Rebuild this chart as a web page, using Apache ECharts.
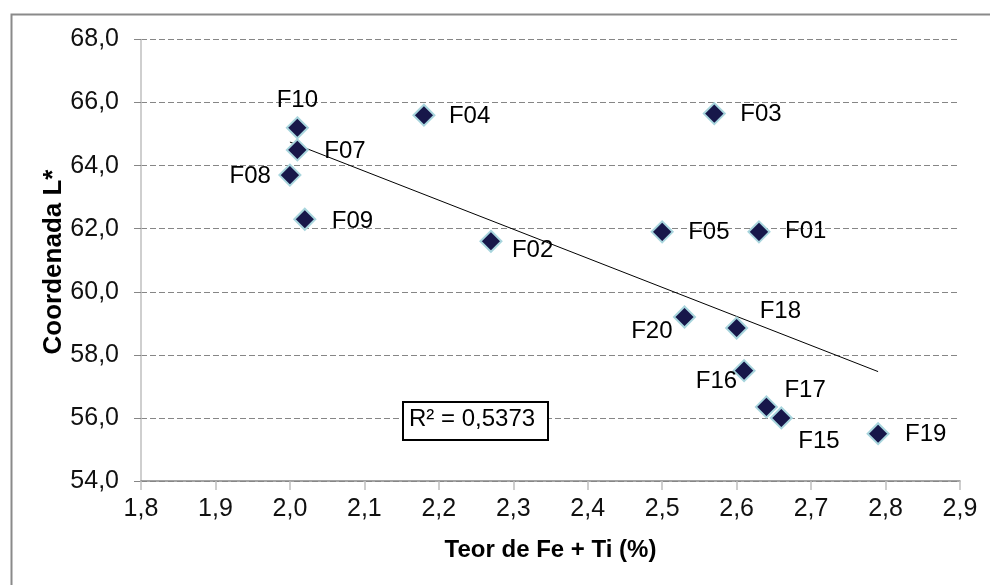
<!DOCTYPE html>
<html>
<head>
<meta charset="utf-8">
<script src="https://cdn.jsdelivr.net/npm/echarts@6/dist/echarts.min.js"></script>
<style>
  html, body { margin: 0; padding: 0; background: #fff; }
  #chart { width: 990px; height: 585px; }
</style>
</head>
<body>
<div id="chart"></div>
<script>
// Sample names, iron + titanium content (%) and L* coordinate
const samples = ['F01', 'F02', 'F03', 'F04', 'F05', 'F07', 'F08', 'F09', 'F10', 'F15', 'F16', 'F17', 'F18', 'F19', 'F20'];
const feTi    = [2.63, 2.27, 2.57, 2.18, 2.50, 2.01, 2.00, 2.02, 2.01, 2.66, 2.61, 2.64, 2.60, 2.79, 2.53];
const lStar   = [61.9, 61.6, 65.65, 65.6, 61.9, 64.5, 63.7, 62.3, 65.2, 56.0, 57.5, 56.35, 58.85, 55.5, 59.2];
const r2Text  = 'R² = 0,5373';
const yTitle  = 'Coordenada L*';

// Where each sample's name sits around its marker: [align, dx, dy]
const labelPlace = {
  F01: ['left', 26, 0],  F02: ['left', 21, 9],   F03: ['left', 26, 1],
  F04: ['left', 25, 1],  F05: ['left', 26, 1],   F07: ['left', 27, 1],
  F08: ['right', -19, 1], F09: ['left', 27, 2],  F10: ['center', 0, -27],
  F15: ['left', 17, 23], F16: ['right', -7, 11], F17: ['left', 18, -17],
  F18: ['left', 23, -17], F19: ['left', 27, 1],  F20: ['right', -12, 14]
};

// Least-squares trend line over the sampled range
function linearFit(xs, ys) {
  const n = xs.length;
  const mx = xs.reduce((a, b) => a + b, 0) / n;
  const my = ys.reduce((a, b) => a + b, 0) / n;
  let sxy = 0, sxx = 0;
  for (let i = 0; i < n; i++) { sxy += (xs[i] - mx) * (ys[i] - my); sxx += (xs[i] - mx) ** 2; }
  const b = sxy / sxx;
  return { a: my - b * mx, b };
}
const fit = linearFit(feTi, lStar);
const xMin = Math.min(...feTi), xMax = Math.max(...feTi);
const trend = [[xMin, fit.a + fit.b * xMin], [xMax, fit.a + fit.b * xMax]];

const comma = v => v.toFixed(1).replace('.', ',');
const FONT = '"Liberation Sans", Arial, sans-serif';

const points = samples.map((s, i) => {
  const p = labelPlace[s];
  return {
    name: s,
    value: [feTi[i], lStar[i]],
    label: { align: p[0], offset: [p[1], p[2]] }
  };
});

const chart = echarts.init(document.getElementById('chart'), null, { renderer: 'canvas' });
chart.setOption({
  animation: false,
  backgroundColor: '#ffffff',
  grid: { left: 141, right: 30, top: 39.5, bottom: 104 },
  xAxis: {
    type: 'value', min: 1.8, max: 2.9, interval: 0.1,
    name: 'Teor de Fe + Ti (%)', nameLocation: 'middle', nameGap: 57,
    nameTextStyle: { fontFamily: FONT, fontSize: 24, fontWeight: 'bold', color: '#000' },
    axisLine: { show: true, lineStyle: { color: '#868686', width: 1.5 } },
    axisTick: { show: true, length: 9, lineStyle: { color: '#bfbfbf', width: 1.5 } },
    axisLabel: { fontFamily: FONT, fontSize: 25, color: '#111', margin: 16, formatter: comma },
    splitLine: { show: false }
  },
  yAxis: {
    type: 'value', min: 54, max: 68, interval: 2,
    axisLine: { show: true, lineStyle: { color: '#bfbfbf', width: 1.5 } },
    axisTick: { show: true, length: 7, lineStyle: { color: '#868686', width: 1 } },
    axisLabel: { fontFamily: FONT, fontSize: 25, color: '#111', margin: 22, formatter: comma },
    splitLine: { show: true, lineStyle: { color: '#868686', type: [6, 3], width: 1 } }
  },
  series: [
    {
      type: 'line',
      data: trend,
      showSymbol: false,
      symbol: 'none',
      lineStyle: { color: '#000', width: 1 },
      z: 3,
      silent: true
    },
    {
      type: 'scatter',
      data: points,
      symbol: 'diamond',
      symbolSize: 21,
      itemStyle: { color: '#17174a', borderColor: '#a8d5dd', borderWidth: 2, opacity: 1 },
      label: {
        show: true,
        position: 'inside',
        formatter: p => p.name,
        fontFamily: FONT,
        fontSize: 24,
        color: '#000',
        verticalAlign: 'middle'
      },
      z: 4
    }
  ],
  graphic: [
    {
      type: 'rect',
      left: 9, top: 12,
      shape: { width: 1000, height: 600 },
      style: { fill: 'none', stroke: '#8a8a8a', lineWidth: 2 },
      silent: true
    },
    {
      // vertical axis title
      type: 'text',
      x: 54, y: 262,
      rotation: Math.PI / 2,
      style: {
        text: yTitle, font: 'bold 26px ' + FONT, fill: '#000',
        align: 'center', verticalAlign: 'middle'
      }
    },
    {
      type: 'rect',
      left: 402, top: 401,
      shape: { width: 145, height: 38 },
      style: { fill: '#fff', stroke: '#000', lineWidth: 2 },
      z: 10
    },
    {
      type: 'text',
      left: 409, top: 407,
      style: { text: r2Text, font: '24px ' + FONT, fill: '#000' },
      z: 11
    }
  ]
});
</script>
</body>
</html>
